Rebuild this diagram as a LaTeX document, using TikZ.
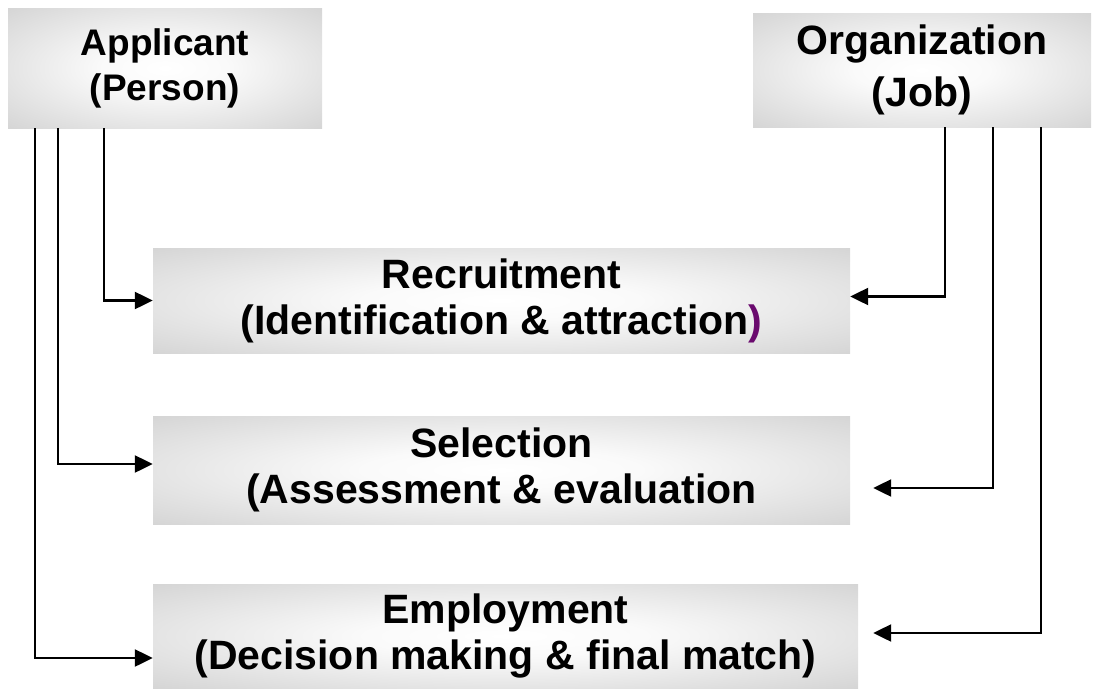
\documentclass[tikz,border=0pt]{standalone}
\usepackage{fontspec}
\setmainfont{Liberation Sans}
\usetikzlibrary{arrows.meta}

\definecolor{boxGray}{HTML}{C0C0C0}
\definecolor{parenPurple}{HTML}{6A0A6E}
\pgfdeclareradialshading{boxglow}{\pgfpoint{0bp}{0bp}}{color(0bp)=(white); color(10bp)=(white!98!black); color(50bp)=(boxGray); color(75bp)=(boxGray)}

\begin{document}
\begin{tikzpicture}[x=1pt, y=-1pt,
        stage/.style={shading=boxglow, align=center, inner sep=0pt},
        link/.style={line width=2.3pt, -{Triangle[length=18pt, width=17pt]}}]
        \useasboundingbox (0,0) rectangle (1094,688);

        % Both sides of the match.
        \node[stage, minimum width=314, minimum height=120,
            font=\fontsize{37}{45}\selectfont\bfseries] (applicant) at (165,68)
            {Applicant\\(Person)};
        \node[stage, minimum width=338, minimum height=114,
            font=\fontsize{41}{52}\selectfont\bfseries] (organization) at (922,70)
            {Organization\\(Job)};

        % The three stages.
        \node[stage, minimum width=697, minimum height=105,
            font=\fontsize{41}{46}\selectfont\bfseries] (recruit) at (501.5,300.5)
            {Recruitment\\(Identification \& attraction\textcolor{parenPurple}{)}};
        \node[stage, minimum width=697, minimum height=108,
            font=\fontsize{41}{46}\selectfont\bfseries] (select) at (501.5,470)
            {Selection\\(Assessment \& evaluation};
        \node[stage, minimum width=705, minimum height=104,
            font=\fontsize{41}{46}\selectfont\bfseries] (employ) at (505.5,636)
            {Employment\\(Decision making \& final match)};

        % Applicant side.
        \draw[link] ([xshift=96]applicant.south west) |- (recruit.west);
        \draw[link] ([xshift=50]applicant.south west) |- ([yshift=6]select.west);
        \draw[link] ([xshift=27]applicant.south west) |- ([yshift=-22]employ.west);

        % Organization side.
        \draw[link] ([xshift=-146]organization.south east) |- ([yshift=4]recruit.east);
        \draw[link] ([xshift=-98]organization.south east) |- ([xshift=23, yshift=-18]select.east);
        \draw[link] ([xshift=-50]organization.south east) |- ([xshift=15, yshift=3]employ.east);
    \end{tikzpicture}
\end{document}
